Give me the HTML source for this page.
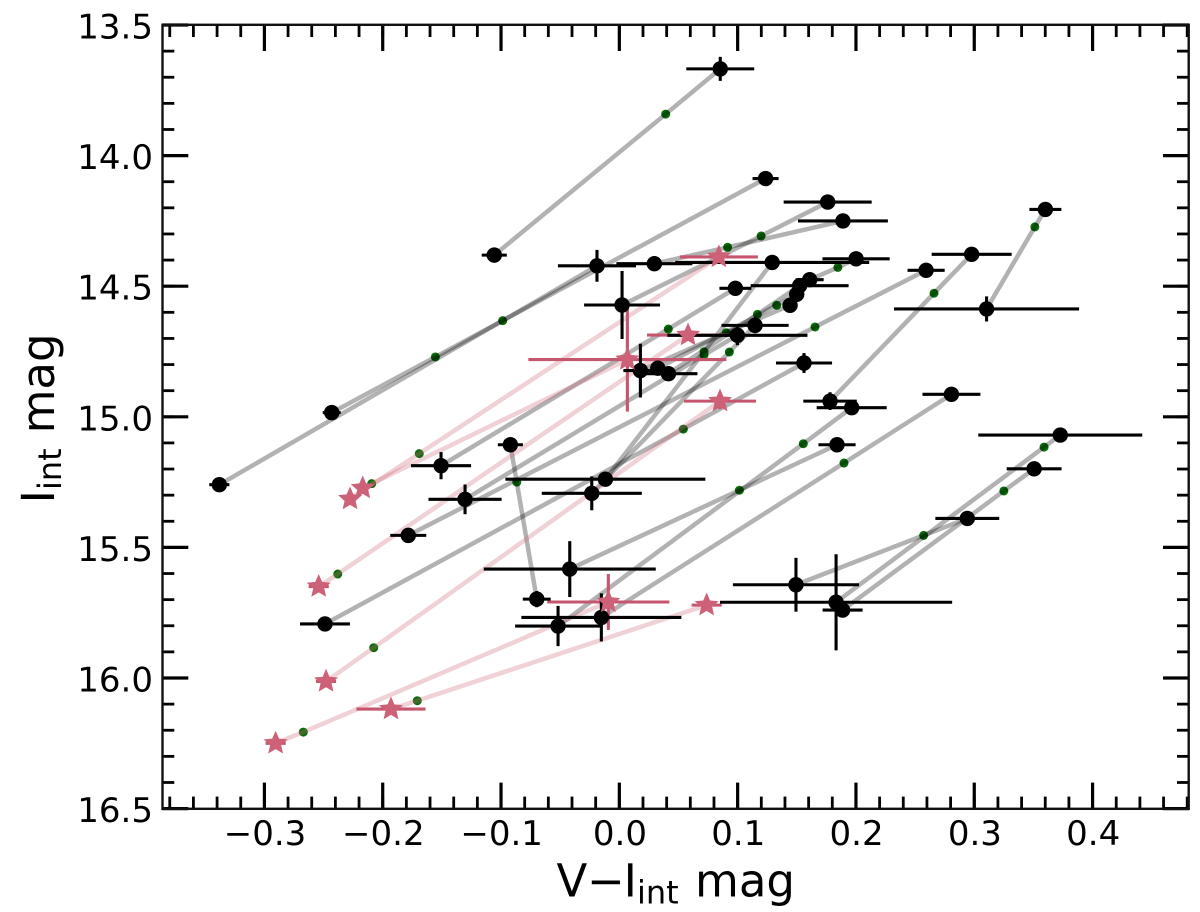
<!DOCTYPE html>
<html lang="en">
<head>
<meta charset="utf-8">
<title>V-I colour magnitude chart</title>
<style>
html,body{margin:0;padding:0;background:#fff;}
body{width:1200px;height:912px;overflow:hidden;}
svg{display:block;}
text{font-family:"DejaVu Sans","Liberation Sans",sans-serif;fill:#000;}
</style>
</head>
<body>
<svg id="chart" xmlns="http://www.w3.org/2000/svg" width="1200" height="912" viewBox="0 0 1200 912">
  <rect x="0" y="0" width="1200" height="912" fill="#fff"/>
  <g id="greens"></g>
  <g id="links"></g>
  <g id="pinkErrors"></g>
  <g id="blackErrors"></g>
  <g id="blacks"></g>
  <g id="stars"></g>
  <g id="ticks"></g>
  <rect x="162.5" y="24.8" width="1026.2" height="784" fill="none" stroke="#111" stroke-width="2.4"/>
  <g id="tickLabels"></g>
  <text y="896.7" font-size="45"><tspan x="556.5">V</tspan><tspan x="587">−</tspan><tspan x="623.6">I</tspan><tspan x="637" y="903.6" font-size="32">int</tspan><tspan x="695" y="896.7">mag</tspan></text>
  <text transform="translate(54,503.4) rotate(-90)" font-size="45"><tspan x="0" y="0">I</tspan><tspan x="13.4" y="7" font-size="32">int</tspan><tspan x="70" y="0">mag</tspan></text>
</svg>
<script>
// Upper-right end of each track: colour, magnitude and errors
const endAColor = [0.0853,0.1236,-0.0189,0.1761,0.189,0.3601,0.2978,0.2001,0.0981,0.2593,0.2807,0.1964,0.1561,0.184,0.3727,0.3506,0.2941,-0.0921,0.1292,0.1147,0.1443,0.0998,0.1499,0.1524,0.0841,0.0068,0.0581,0.0851,-0.0093,0.0738];
const endAMag = [13.668,14.088,14.422,14.178,14.25,14.206,14.378,14.395,14.508,14.439,14.914,14.965,14.794,15.107,15.07,15.199,15.389,15.107,14.409,14.65,14.573,14.688,14.531,14.498,14.388,14.781,14.687,14.94,15.709,15.721];
const endAColorErr = [0.0287,0.011,0.033,0.0372,0.038,0.0135,0.0338,0.0284,0.0135,0.0157,0.0245,0.0296,0.0237,0.0157,0.0693,0.0232,0.027,0.0106,0.082,0.0284,0.005,0.0592,0.005,0.0414,0.033,0.0837,0.0347,0.0304,0.0516,0.0127];
const endAMagErr = [0.046,0.012,0.061,0.004,0.004,0.006,0.006,0.004,0.008,0.006,0.004,0.006,0.038,0.004,0.004,0.004,0.004,0.004,0.004,0.03,0.004,0.038,0.004,0.004,0.006,0.199,0.004,0.031,0.107,0.004];
// Green intermediate point on each track
const midColor = [0.0392,-0.1555,-0.0986,0.1198,0.0915,0.3512,0.266,0.1847,0.0414,0.1654,0.1899,0.1555,0.0541,0.1015,0.359,0.325,0.2572,-0.0867,0.0716,0.093,0.0904,0.0716,0.133,0.1167,-0.1691,-0.2093,-0.238,-0.2076,-0.2671,-0.1708];
const midMag = [13.841,14.771,14.632,14.308,14.351,14.273,14.527,14.428,14.664,14.656,15.177,15.103,15.047,15.281,15.116,15.284,15.454,15.25,14.751,14.752,14.678,14.763,14.573,14.608,15.141,15.256,15.602,15.884,16.207,16.087];
// Lower-left end of each track
const endBColor = [-0.1057,-0.2431,-0.3381,0.0023,0.0296,0.3104,0.1781,0.1609,-0.1507,-0.1784,-0.0152,-0.0518,-0.2488,-0.0419,0.1832,0.1887,0.1493,-0.0698,-0.0118,-0.0233,0.0178,-0.1304,0.0325,0.0415,-0.2276,-0.2169,-0.2541,-0.2479,-0.2905,-0.193];
const endBMag = [14.381,14.984,15.26,14.572,14.414,14.587,14.94,14.475,15.187,15.454,15.768,15.801,15.793,15.583,15.71,15.74,15.643,15.698,15.239,15.293,14.823,15.316,14.814,14.835,15.315,15.273,15.65,16.013,16.25,16.119];
const endBColorErr = [0.0106,0.0076,0.0085,0.0321,0.0321,0.0782,0.0226,0.0118,0.0254,0.0152,0.0676,0.0363,0.0211,0.0727,0.0981,0.0169,0.0533,0.0118,0.0845,0.0423,0.0144,0.0309,0.005,0.0245,0.002,0.002,0.0085,0.0085,0.0085,0.0292];
const endBMagErr = [0.008,0.004,0.004,0.13,0.004,0.048,0.034,0.004,0.052,0.004,0.092,0.077,0.004,0.107,0.184,0.004,0.103,0.031,0.004,0.065,0.103,0.057,0.004,0.004,0.002,0.002,0.004,0.004,0.004,0.004];
// Which tracks end in star markers (1) rather than black circles (0)
const trackIsStar = [0,0,0,0,0,0,0,0,0,0,0,0,0,0,0,0,0,0,0,0,0,0,0,0,1,1,1,1,1,1];
// Axis ticks
const xMajorTicks = [-0.3,-0.2,-0.1,0,0.1,0.2,0.3,0.4];
const xTickLabels = ['−0.3','−0.2','−0.1','0.0','0.1','0.2','0.3','0.4'];
const yMajorTicks = [13.5,14,14.5,15,15.5,16,16.5];
const yTickLabelsText = ['13.5','14.0','14.5','15.0','15.5','16.0','16.5'];
const xMinorStart = -0.38, xMinorStop = 0.48, xMinorStepCount = 43;
const yMinorStart = 13.5, yMinorStepCount = 30;

const xDomain = [-0.3863, 0.4815], xRange = [162.3, 1189];
const yDomain = [13.5, 16.5], yRange = [25, 808.6];
function xScale(v){ return xRange[0] + (v - xDomain[0]) / (xDomain[1] - xDomain[0]) * (xRange[1] - xRange[0]); }
function yScale(v){ return yRange[0] + (v - yDomain[0]) / (yDomain[1] - yDomain[0]) * (yRange[1] - yRange[0]); }

const NS = 'http://www.w3.org/2000/svg';
function mk(tag, parentId, attrs){
  const el = document.createElementNS(NS, tag);
  for (const k in attrs) el.setAttribute(k, attrs[k]);
  document.getElementById(parentId).appendChild(el);
  return el;
}
function starPoints(cx, cy, r){
  const pts = [];
  for (let i = 0; i < 10; i++){
    const rad = i % 2 ? r * 0.46 : r;
    const a = -Math.PI / 2 + i * Math.PI / 5;
    pts.push((cx + rad * Math.cos(a)).toFixed(2) + ',' + (cy + rad * Math.sin(a)).toFixed(2));
  }
  return pts.join(' ');
}
function drawErrors(parentId, cx, cy, ex, ey, stroke){
  const h = mk('line', parentId, {x1:xScale(cx-ex), x2:xScale(cx+ex), y1:yScale(cy), y2:yScale(cy), stroke:stroke, 'stroke-width':3.1});
  
  
  const v = mk('line', parentId, {x1:xScale(cx), x2:xScale(cx), y1:yScale(cy-ey), y2:yScale(cy+ey), stroke:stroke, 'stroke-width':3.1});
  
  
}
function drawEnd(isStar, cx, cy, ex, ey){
  if (isStar){
    drawErrors('pinkErrors', cx, cy, ex, ey, '#c5566e');
    const s = mk('polygon', 'stars', {points:starPoints(xScale(cx), yScale(cy), 12.6), fill:'#cd6178'});
    
    
  } else {
    drawErrors('blackErrors', cx, cy, ex, ey, '#000');
    const c = mk('circle', 'blacks', {cx:xScale(cx), cy:yScale(cy), r:7.7, fill:'#000'});
    
    
  }
}
for (let i = 0; i < endAColor.length; i++){
  const g = mk('circle', 'greens', {cx:xScale(midColor[i]), cy:yScale(midMag[i]), r:4.5, fill:'#0a6c0a'});
  
  
  const pts = [[endAColor[i],endAMag[i]],[midColor[i],midMag[i]],[endBColor[i],endBMag[i]]]
    .map(function(p){ return xScale(p[0]).toFixed(2) + ',' + yScale(p[1]).toFixed(2); }).join(' ');
  const l = mk('polyline', 'links', {points:pts, fill:'none', stroke:trackIsStar[i] ? 'rgb(204,102,119)' : '#000', 'stroke-opacity':0.3, 'stroke-width':4.5});
  
  
  drawEnd(trackIsStar[i], endAColor[i], endAMag[i], endAColorErr[i], endAMagErr[i]);
  drawEnd(trackIsStar[i], endBColor[i], endBMag[i], endBColorErr[i], endBMagErr[i]);
}
function tick(x1, y1, x2, y2, w, name){
  const t = mk('line', 'ticks', {x1:x1, y1:y1, x2:x2, y2:y2, stroke:'#000', 'stroke-width':w});
  
  
}
for (let i = 0; i <= xMinorStepCount; i++){
  const v = xMinorStart + i * (xMinorStop - xMinorStart) / xMinorStepCount;
  const x = xScale(v);
  tick(x, yRange[1], x, yRange[1]-12, 2.8, 'x-minor-tick');
  tick(x, yRange[0], x, yRange[0]+12, 2.8, 'x-minor-tick-top');
}
xMajorTicks.forEach(function(v, i){
  const x = xScale(v);
  tick(x, yRange[1], x, yRange[1]-26, 3.2, 'x-major-tick');
  tick(x, yRange[0], x, yRange[0]+26, 3.2, 'x-major-tick-top');
  const t = mk('text', 'tickLabels', {x:x+0.6, y:845, 'font-size':34, 'text-anchor':'middle'});
  
  
  t.textContent = xTickLabels[i];
});
for (let i = 0; i <= yMinorStepCount; i++){
  const y = yScale(yMinorStart + i * 0.1);
  tick(xRange[0], y, xRange[0]+12, y, 2.8, 'y-minor-tick');
  tick(xRange[1], y, xRange[1]-12, y, 2.8, 'y-minor-tick-right');
}
yMajorTicks.forEach(function(v, i){
  const y = yScale(v);
  tick(xRange[0], y, xRange[0]+26, y, 3.2, 'y-major-tick');
  tick(xRange[1], y, xRange[1]-26, y, 3.2, 'y-major-tick-right');
  const t = mk('text', 'tickLabels', {x:153, y:y+13.5, 'font-size':34, 'text-anchor':'end'});
  
  
  t.textContent = yTickLabelsText[i];
});
</script>
</body>
</html>
